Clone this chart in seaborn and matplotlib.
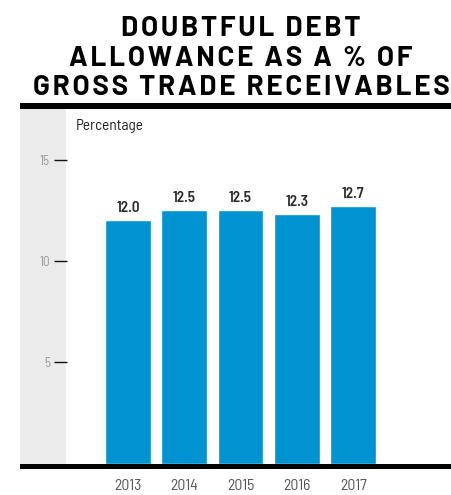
import matplotlib
matplotlib.use("Agg")
import matplotlib.pyplot as plt
from matplotlib.patches import Rectangle
import seaborn as sns
import pandas as pd

years = ["2013", "2014", "2015", "2016", "2017"]
values = [12.0, 12.5, 12.5, 12.3, 12.7]
y_ticks = [5, 10, 15]
title_lines = ["DOUBTFUL DEBT", "ALLOWANCE AS A % OF", "GROSS TRADE RECEIVABLES"]
unit_label = "Percentage"

sns.set_theme(style="white")
FONT = ["Barlow Semi Condensed", "Archivo Narrow", "DejaVu Sans"]
TITLE_FONT = ["Barlow", "DejaVu Sans"]
plt.rcParams["font.family"] = FONT

W, H = 452, 495
fig = plt.figure(figsize=(W / 100, H / 100), dpi=100)


def fx(px):
    return px / W


def fy(py):
    return 1 - py / H


# plot panel: from the grey strip edge to the right border
ax_left, ax_right, ax_top, ax_bottom = 66.5, 452, 109, 463.6
ax = fig.add_axes([fx(ax_left), fy(ax_bottom), fx(ax_right - ax_left), (ax_bottom - ax_top) / H])

df = pd.DataFrame({"year": years, "value": values})
sns.barplot(data=df, x="year", y="value", order=years, color="#0093D1",
            saturation=1, width=0.81, ax=ax)

for i, v in enumerate(values):
    ax.annotate(f"{v:.1f}", (i, v), xytext=(0, 4), textcoords="offset points",
                ha="center", va="bottom", fontsize=11, fontweight=600, color="#2b2b2b")

ax.set_xlim(-1.092, 5.755)
ax.set_ylim(0, 17.5)
ax.set_yticks(y_ticks)
ax.set_yticklabels([str(t) for t in y_ticks])
ax.tick_params(axis="y", length=9.4, width=1.0, color="#111111", pad=2.4,
               labelsize=9.5, labelcolor="#9a9a9a", left=True, direction="out")
ax.tick_params(axis="x", length=0, pad=11, labelsize=11.3, labelcolor="#555555")
ax.set_xlabel("")
ax.set_ylabel("")
for s in ax.spines.values():
    s.set_visible(False)
ax.patch.set_alpha(0)

# grey strip behind the value axis, rules at top and bottom
fig.add_artist(Rectangle((fx(20), fy(463.6)), fx(46.5), (463.6 - 109) / H,
                         transform=fig.transFigure, color="#ebebeb", lw=0, zorder=0))
fig.add_artist(Rectangle((fx(20), fy(108.5)), fx(432), 5.5 / H,
                         transform=fig.transFigure, color="black", lw=0))
fig.add_artist(Rectangle((fx(20), fy(468.8)), fx(432), 5.3 / H,
                         transform=fig.transFigure, color="black", lw=0))

fig.text(fx(76), fy(130), unit_label, fontsize=11, color="#222222", va="baseline")


# letter-spaced headline: pick the spacing that brings the widest line to ~413 px
def tracked(s, sep):
    return (sep + " " + sep).join(sep.join(word) for word in s.split(" "))


title_size = 20
title_kw = dict(fontsize=title_size, fontweight="bold", family=TITLE_FONT)
renderer = fig.canvas.get_renderer()
best_sep, best_err = "", None
for sep in ["", "\u200a", "\u2009", "\u200a\u200a"]:
    probe = fig.text(0, 0, tracked(title_lines[-1], sep), **title_kw)
    err = abs(probe.get_window_extent(renderer).width - 413)
    probe.remove()
    if best_err is None or err < best_err:
        best_sep, best_err = sep, err

for k, line in enumerate(title_lines):
    fig.text(fx(241), fy(36.5 + 29.3 * k), tracked(line, best_sep), ha="center",
             va="baseline", color="black", **title_kw)

fig.savefig("out.png", dpi=100)
